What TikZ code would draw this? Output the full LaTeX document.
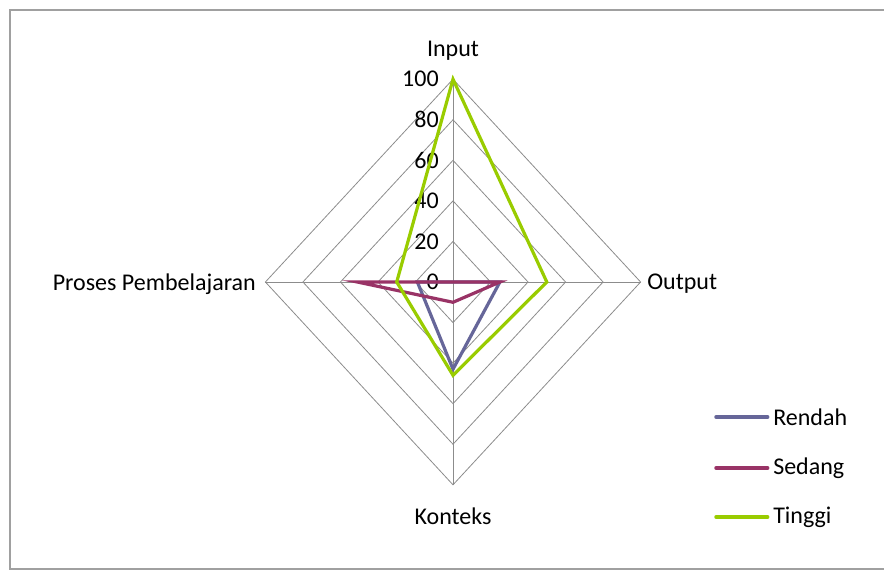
\documentclass[tikz,border=0pt]{standalone}
\usepackage{fontspec}
\setmainfont{Carlito}
\usepackage{xcolor}
\usetikzlibrary{positioning, calc}

\definecolor{rendahcol}{HTML}{666699}
\definecolor{sedangcol}{HTML}{993366}
\definecolor{tinggicol}{HTML}{99CC00}
\definecolor{gridcol}{HTML}{8C8C8C}
\definecolor{framecol}{HTML}{A0A0A0}

\begin{document}
\begin{tikzpicture}[
    x=0.75pt, y=-0.75pt,
    font=\fontsize{18}{20}\selectfont,
    grid/.style={draw=gridcol, line width=0.6pt},
    series/.style={line width=2.4pt, line join=miter},
    lbl/.style={inner sep=0pt},
    legline/.style={line width=2.6pt, line cap=round}
]
\useasboundingbox (0,0) rectangle (884,571);

% Chart frame
\draw[framecol, line width=1.4pt] (890,10) -- (10,10) -- (10,569) -- (890,569);

\begin{scope}[xshift=453*0.75pt, yshift=-282*0.75pt, x=1.876*0.75pt, y=2.028*0.75pt]
% Grid
\foreach \r in {20,40,...,100}
    \draw[grid] (0,\r) -- (\r,0) -- (0,-\r) -- (-\r,0) -- cycle;
\draw[grid] (0,100) -- (0,-100);
\draw[grid] (-100,0) -- (100,0);

% Scale
\foreach \v in {0,20,...,100}
    \node[lbl, anchor=east, xshift=-10.5pt] (tick\v) at (0,\v) {\v};

% Series
\draw[series, rendahcol] (0,0) -- (25,0) -- (0,-43) -- (-19,0) -- cycle;
\draw[series, sedangcol] (0,0) -- (25,0) -- (0,-10) -- (-51,0) -- cycle;
\draw[series, tinggicol] (0,100) -- (50,0) -- (0,-46) -- (-30,0) -- cycle;
\end{scope}

% Axis labels
\node[lbl] (input) at (453,51) {Input};
\node[lbl, anchor=west] (output) at (647,284) {Output};
\node[lbl] (konteks) at (453,516) {Konteks};
\node[lbl, anchor=east] (proses) at (256,284) {Proses Pembelajaran};

% Legend
\node[lbl, anchor=west] (rendah) at (773,417) {Rendah};
\node[lbl, anchor=west] (sedang) at (773,468) {Sedang};
\node[lbl, anchor=west] (tinggi) at (773,517) {Tinggi};
\coordinate (rendahstart) at (716,417);
\coordinate (sedangstart) at (716,468);
\coordinate (tinggistart) at (716,517);
\draw[legline, rendahcol] (rendahstart) -- ([xshift=-4pt]rendah.west);
\draw[legline, sedangcol] (sedangstart) -- ([xshift=-4pt]sedang.west);
\draw[legline, tinggicol] (tinggistart) -- ([xshift=-4pt]tinggi.west);

\end{tikzpicture}
\end{document}
